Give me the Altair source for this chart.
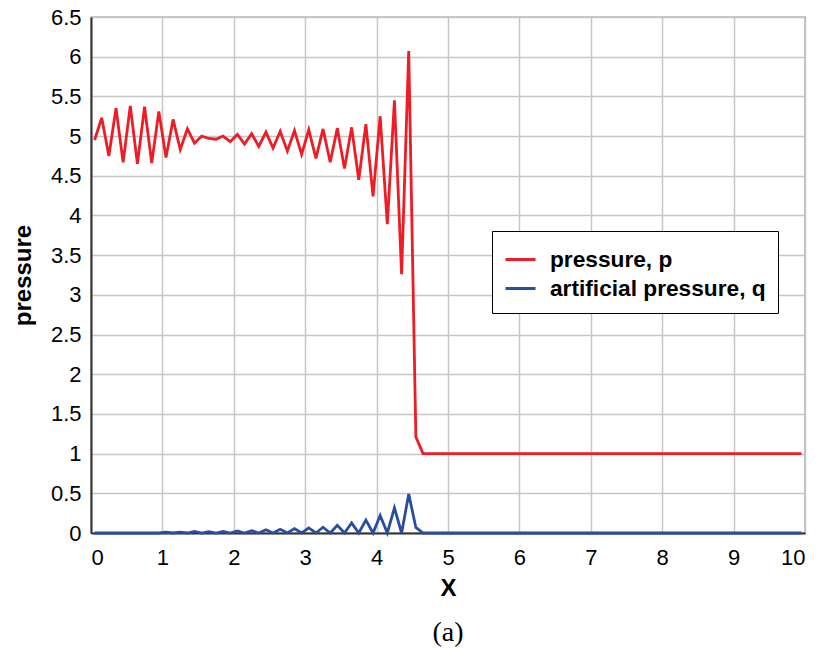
import altair as alt
import numpy as np
import pandas as pd

# cell-centre positions (0.05, 0.15, ..., 9.95)
x_vals = np.round(np.arange(100) * 0.1 + 0.05, 2)

p_vals = [4.95, 5.23, 4.75, 5.35, 4.67, 5.38, 4.65, 5.37, 4.66, 5.31,
          4.73, 5.21, 4.83, 5.09, 4.91, 5.00, 4.97, 4.96, 5.00, 4.93,
          5.02, 4.90, 5.03, 4.87, 5.05, 4.85, 5.06, 4.81, 5.07, 4.77,
          5.08, 4.72, 5.09, 4.67, 5.10, 4.59, 5.11, 4.45, 5.15, 4.24,
          5.25, 3.89, 5.45, 3.26, 6.07, 1.21, 1.00] + [1.00] * 53

q_vals = [0, 0, 0, 0, 0, 0, 0, 0, 0, 0,
          0.010, 0, 0.012, 0, 0.020, 0, 0.018, 0, 0.020, 0,
          0.026, 0, 0.030, 0, 0.040, 0, 0.047, 0, 0.056, 0,
          0.064, 0, 0.073, 0, 0.098, 0, 0.128, 0, 0.162, 0,
          0.222, 0, 0.316, 0, 0.490, 0.070] + [0] * 54

series_names = ["pressure, p", "artificial pressure, q"]
series_colors = ["#ee1c25", "#2a4d9f"]

x_ticks = list(range(0, 11))
y_ticks = [0, 0.5, 1, 1.5, 2, 2.5, 3, 3.5, 4, 4.5, 5, 5.5, 6, 6.5]

df = pd.concat([
    pd.DataFrame({"x": x_vals, "value": q_vals, "series": series_names[1]}),
    pd.DataFrame({"x": x_vals, "value": p_vals, "series": series_names[0]}),
])

chart = alt.Chart(df).mark_line(strokeWidth=2.8, strokeJoin="miter").encode(
    x=alt.X("x:Q", scale=alt.Scale(domain=[0, 10], nice=False, zero=False),
            axis=alt.Axis(title="X", values=x_ticks, titleY=62,
                          titleBaseline="alphabetic", labelPadding=14,
                          labelFontSize=22)),
    y=alt.Y("value:Q", scale=alt.Scale(domain=[0, 6.5], nice=False),
            axis=alt.Axis(title="pressure", values=y_ticks, labelExpr="datum.value",
                          titleX=-61, titleY=258, titleAngle=270,
                          titleBaseline="alphabetic", titleAlign="center",
                          labelPadding=10, labelFontSize=22)),
    color=alt.Color("series:N",
                    scale=alt.Scale(domain=series_names, range=series_colors),
                    legend=alt.Legend(title=None, orient="none", legendX=401, legendY=214,
                                      symbolType="stroke", symbolSize=900,
                                      symbolStrokeWidth=3, labelFont="Liberation Sans",
                                      labelFontSize=22.7, labelFontWeight="bold",
                                      labelColor="black", padding=12, rowPadding=-3,
                                      strokeColor="black", fillColor="white",
                                      labelOffset=13, labelLimit=400)),
    detail="series:N",
).properties(
    width=714,
    height=516,
    autosize=alt.AutoSizeParams(type="none"),
    padding={"left": 83, "top": 9, "right": 7, "bottom": 115},
    title=alt.TitleParams(text="(a)", orient="bottom", anchor="middle",
                          font="Liberation Serif", fontSize=28, fontWeight="normal",
                          color="black", offset=19),
).configure_axis(
    labelFont="Liberation Sans",
    labelFontSize=22,
    labelColor="black",
    titleFont="Liberation Sans",
    titleFontSize=24,
    titleFontWeight="bold",
    titleColor="black",
    ticks=False,
    domainColor="#333333",
    domainWidth=2,
    gridColor="#c6c6c6",
    gridWidth=1.5,
).configure_view(
    stroke="#222222",
    strokeWidth=1.2,
)

chart.save("out.html", embed_options={"renderer": "svg", "actions": False})
